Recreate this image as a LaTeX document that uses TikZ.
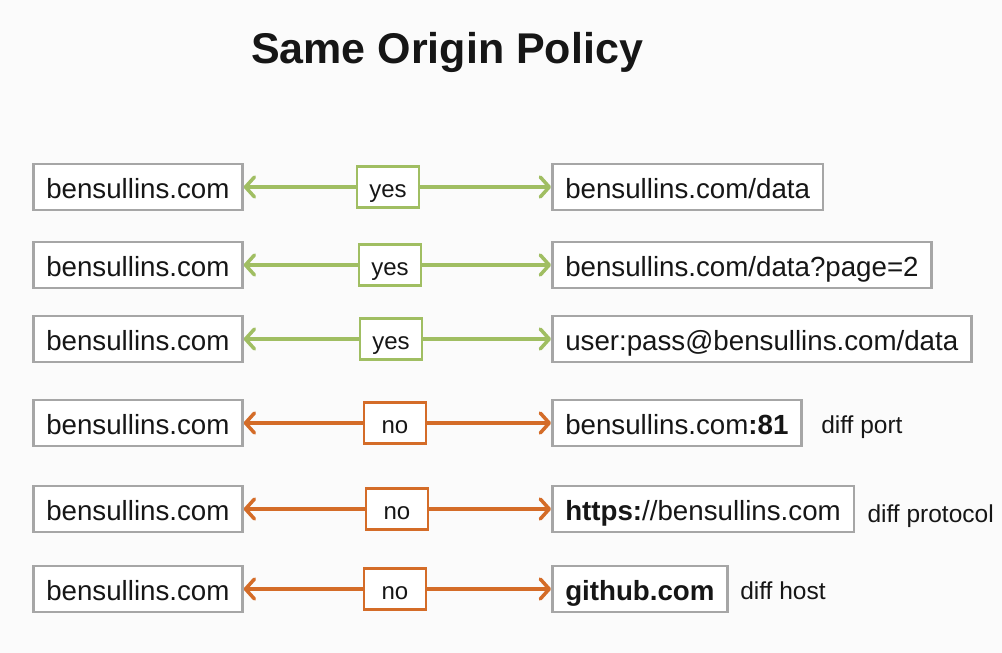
\documentclass[tikz,border=0pt]{standalone}
\usepackage{fontspec}
\setmainfont{Liberation Sans}
\usetikzlibrary{arrows.meta,positioning}
\definecolor{boxgray}{RGB}{166,166,166}
\definecolor{okgreen}{RGB}{160,190,98}
\definecolor{badorange}{RGB}{212,108,40}
\definecolor{ink}{RGB}{22,22,22}

\begin{document}
\begin{tikzpicture}[
  x=1pt, y=-1pt,
  every node/.style={text=ink},
  url/.style={draw=boxgray, line width=2.5pt, fill=white, inner xsep=13pt,
    minimum height=46pt, text height=22pt, text depth=0pt,
    font=\fontsize{27.7}{30}\selectfont},
  verdict/.style={draw=#1, line width=2.5pt, fill=white, minimum width=62pt,
    minimum height=41pt, text height=20pt, text depth=0pt,
    font=\fontsize{24}{28}\selectfont},
  link/.style={draw=#1, line width=3.5pt,
    -{Straight Barb[length=9pt,width=20pt,round]}},
  note/.style={font=\fontsize{24.5}{28}\selectfont, text height=20pt, text depth=0pt},
]
\fill[gray!3] (0,0) rectangle (1002,653);
\useasboundingbox (0,0) rectangle (1002,653);

\node[font=\fontsize{43}{48}\selectfont\bfseries, anchor=base] (title) at (447,63) {Same Origin Policy};

% targets
\node[url, anchor=west] (dst1) at (551,187) {bensullins.com/data};
\node[url, anchor=west] (dst2) at (551,265) {bensullins.com/data?page=2};
\node[url, anchor=west] (dst3) at (551,339) {user:pass@bensullins.com/data};
\node[url, anchor=west] (dst4) at (551,423) {bensullins.com\textbf{:81}};
\node[url, anchor=west] (dst5) at (551,509) {\textbf{https:}//bensullins.com};
\node[url, anchor=west] (dst6) at (551,589) {\textbf{github.com}};

\node[note, right=15pt of dst4] (note4) {diff port};
\node[note, right=9pt of dst5, yshift=-3pt] (note5) {diff protocol};
\node[note, right=8pt of dst6] (note6) {diff host};

% origins and answers
\foreach \i/\y/\mx/\ans/\tone in {1/187/388/yes/okgreen,2/265/390/yes/okgreen,
  3/339/391/yes/okgreen,4/423/395/no/badorange,5/509/397/no/badorange,6/589/395/no/badorange}
{
  \node[url, anchor=west] (src\i) at (32,\y) {bensullins.com};
  \node[verdict=\tone] (ans\i) at (\mx,\y) {\ans};
  \draw[link=\tone] (ans\i) -- (src\i);
  \draw[link=\tone] (ans\i) -- (dst\i);
}
\end{tikzpicture}
\end{document}
